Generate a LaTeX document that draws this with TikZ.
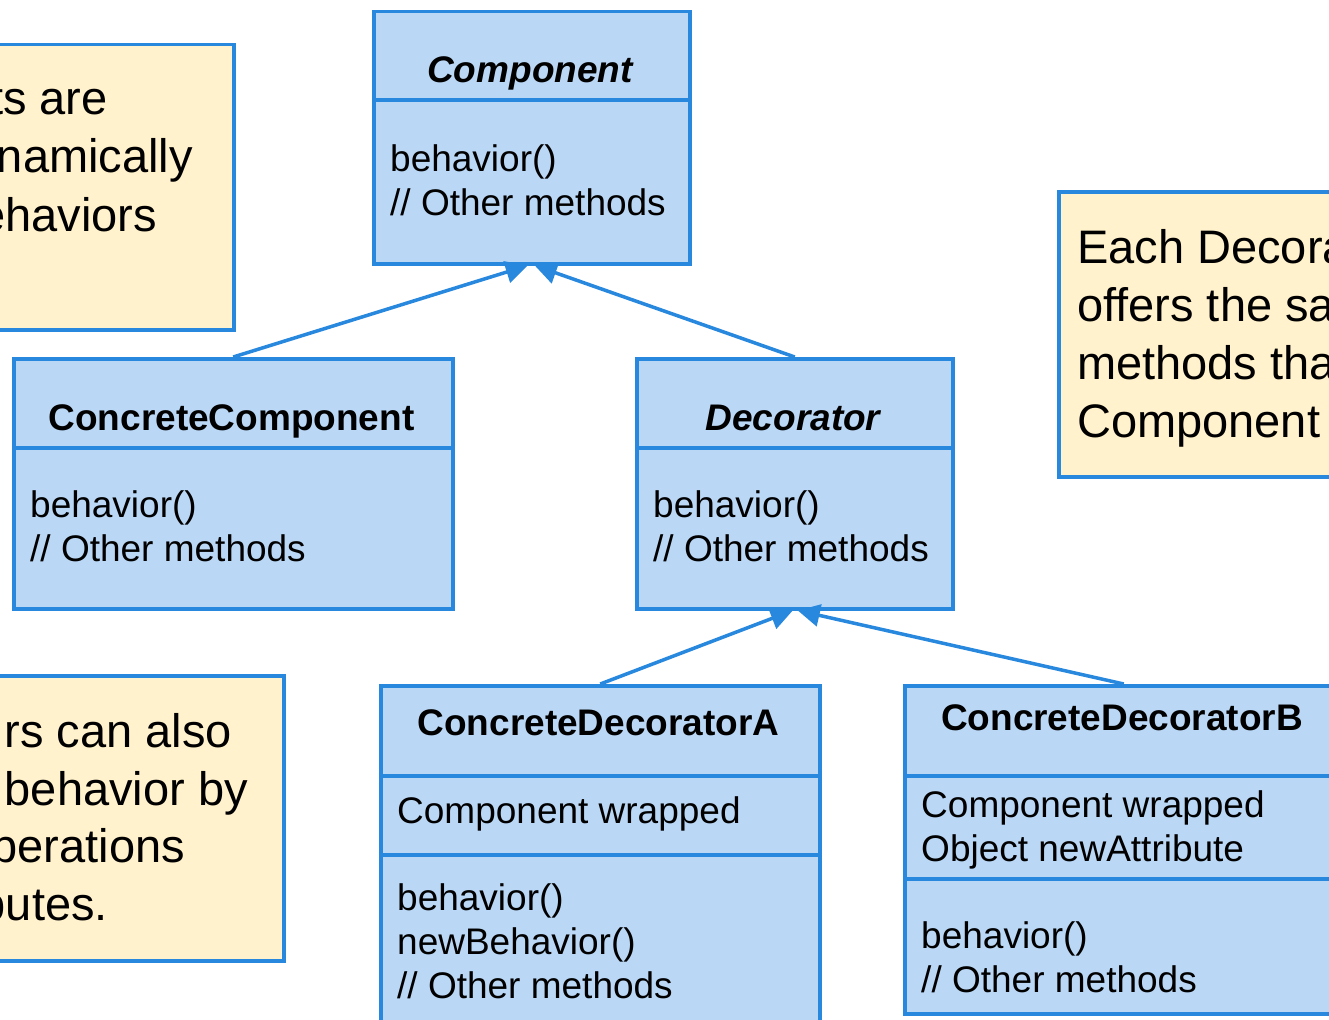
\documentclass[tikz,border=0pt]{standalone}
\usepackage{fontspec}
\setmainfont{Liberation Sans}
\usetikzlibrary{arrows.meta}
\definecolor{umlblue}{RGB}{40,136,222}
\definecolor{umlfill}{RGB}{186,215,245}
\definecolor{notefill}{RGB}{255,242,204}

\begin{document}
\begin{tikzpicture}[x=1pt,y=-1pt,
  classbox/.style={draw=umlblue, fill=umlfill, line width=3.5pt, anchor=north west, inner sep=0pt},
  notebox/.style={draw=umlblue, fill=notefill, line width=3.5pt, anchor=north west, inner sep=0pt},
  divider/.style={draw=umlblue, line width=3.5pt},
  ctitle/.style={font=\fontsize{37}{44}\selectfont\bfseries, anchor=base, inner sep=0pt},
  atitle/.style={font=\fontsize{37}{44}\selectfont\bfseries\itshape, anchor=base, inner sep=0pt},
  % multi-line member lists are placed by the baseline of their last line
  members/.style={font=\fontsize{37}{44}\selectfont, anchor=base west, align=left, inner sep=0pt},
  notetext/.style={font=\fontsize{47}{58}\selectfont, inner sep=0pt},
  inherit/.style={draw=umlblue, line width=3.5pt, -{Triangle[length=22pt,width=22pt]}},
]
% page
\fill[white] (0,0) rectangle (1329,1019);
\useasboundingbox (0,0) rectangle (1329,1019);

% notes
\node[notebox, minimum width=292pt, minimum height=285pt] (n1) at (-60,43) {};
\node[notetext, anchor=base east] (n1a) at (108,115) {ts are};
\node[notetext, anchor=base east] (n1b) at (193,173) {namically};
\node[notetext, anchor=base east] (n1c) at (157,231) {ehaviors};

\node[notebox, minimum width=342pt, minimum height=285pt] (n2) at (-60,674) {};
\node[notetext, anchor=base east] (n2a) at (232,747) {rs can also};
\node[notetext, anchor=base east] (n2b) at (248,805) {behavior by};
\node[notetext, anchor=base east] (n2c) at (185,862) {perations};
\node[notetext, anchor=base east] (n2d) at (108,920) {butes.};

\node[notebox, minimum width=400pt, minimum height=285pt] (n3) at (1057,190) {};
\node[notetext, anchor=base west, align=left] (n3t) at (1077,437)
  {Each Decora\\offers the sa\\methods tha\\Component};

% Component
\node[classbox, minimum width=316pt, minimum height=252pt] (comp) at (372,10) {};
\draw[divider] (372,100) -- (688,100);
\node[atitle] (compT) at (530,83) {Component};
\node[members] (compM) at (390,215) {behavior()\\// Other methods};

% ConcreteComponent
\node[classbox, minimum width=439pt, minimum height=250pt] (cc) at (12,357) {};
\draw[divider] (12,448) -- (451,448);
\node[ctitle] (ccT) at (231.5,430) {ConcreteComponent};
\node[members] (ccM) at (30,561) {behavior()\\// Other methods};

% Decorator
\node[classbox, minimum width=316pt, minimum height=250pt] (dec) at (635,357) {};
\draw[divider] (635,448) -- (951,448);
\node[atitle] (decT) at (793,430) {Decorator};
\node[members] (decM) at (653,561) {behavior()\\// Other methods};

% ConcreteDecoratorA
\node[classbox, minimum width=439pt, minimum height=360pt] (cda) at (379,684) {};
\draw[divider] (379,776) -- (818,776);
\draw[divider] (379,855) -- (818,855);
\node[ctitle] (cdaT) at (598.5,735) {ConcreteDecoratorA};
\node[members] (cdaA) at (397,823) {Component wrapped};
\node[members] (cdaM) at (397,998) {behavior()\\newBehavior()\\// Other methods};

% ConcreteDecoratorB
\node[classbox, minimum width=438pt, minimum height=328pt] (cdb) at (903,684) {};
\draw[divider] (903,776) -- (1341,776);
\draw[divider] (903,879) -- (1341,879);
\node[ctitle] (cdbT) at (1122,730) {ConcreteDecoratorB};
\node[members] (cdbA) at (921,861) {Component wrapped\\Object newAttribute};
\node[members] (cdbM) at (921,992) {behavior()\\// Other methods};

% generalisations
\draw[inherit] (cc.north) -- ([xshift=-4pt]comp.south);
\draw[inherit] (dec.north) -- ([xshift=3pt]comp.south);
\draw[inherit] (cda.north) -- ([xshift=-2pt]dec.south);
\draw[inherit] (cdb.north) -- ([xshift=3pt]dec.south);
\end{tikzpicture}
\end{document}
